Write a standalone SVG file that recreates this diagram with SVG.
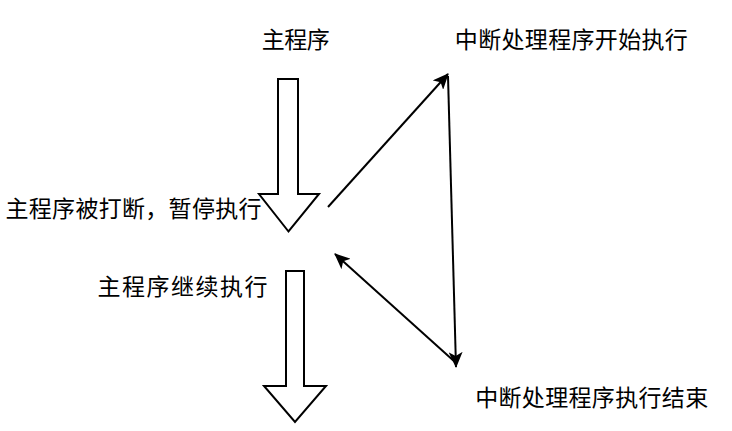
<svg xmlns="http://www.w3.org/2000/svg" width="732" height="431" viewBox="0 0 732 431">
<style>
text{font-family:"Noto Sans CJK SC","Noto Sans",sans-serif;font-size:23px;fill:#000}
.blk{fill:#fff;stroke:#000;stroke-width:2}
.ln{stroke:#000;stroke-width:2;fill:none}
</style>
<defs>
<marker id="ah" markerUnits="userSpaceOnUse" markerWidth="16" markerHeight="14" refX="15" refY="7" orient="auto" viewBox="0 0 16 14">
<path d="M0,0 L16,7 L0,14 L4,7 z" fill="#000"/>
</marker>
</defs>
<rect width="732" height="431" fill="#fff"/>
<g id="n-main">
<text x="295.8" y="47.5" text-anchor="middle" textLength="68" lengthAdjust="spacing">主程序</text>
</g>
<g id="n-arrow1">
<polygon class="blk" points="278,79 298,79 298,194 319,194 288.5,231.5 259,194 278,194"/>
</g>
<g id="n-interrupted">
<text x="261.5" y="216.5" text-anchor="end" textLength="256" lengthAdjust="spacing">主程序被打断，暂停执行</text>
</g>
<g id="n-continue">
<text x="182.5" y="294.5" text-anchor="middle" textLength="170" lengthAdjust="spacing">主程序继续执行</text>
</g>
<g id="n-arrow2">
<polygon class="blk" points="286,271 304,271 304,386 326,386 295,422 264,386 286,386"/>
</g>
<g id="n-isr-start">
<text x="571.3" y="47.5" text-anchor="middle" textLength="233" lengthAdjust="spacing">中断处理程序开始执行</text>
</g>
<g id="n-isr-end">
<text x="591.7" y="405.5" text-anchor="middle" textLength="233" lengthAdjust="spacing">中断处理程序执行结束</text>
</g>
<g id="connectors">
<line class="ln" x1="328" y1="207" x2="448" y2="74" marker-end="url(#ah)"/>
<line class="ln" x1="448" y1="76" x2="456" y2="367" marker-end="url(#ah)"/>
<line class="ln" x1="455" y1="362" x2="335" y2="254" marker-end="url(#ah)"/>
</g>
</svg>
